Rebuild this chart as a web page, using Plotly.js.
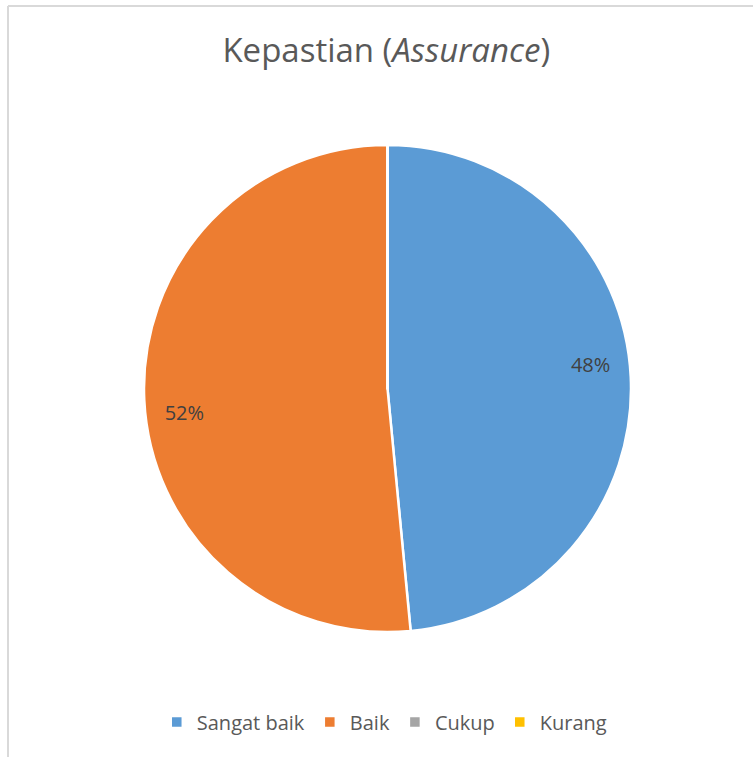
<!DOCTYPE html>
<html>
<head>
<meta charset="utf-8">
<script src="https://cdn.plot.ly/plotly-3.0.1.min.js"></script>
<style>
html,body{margin:0;padding:0;background:#fff;}
#chart{width:753px;height:757px;}
</style>
</head>
<body>
<div id="chart"></div>
<script>
const categories = ["Sangat baik", "Baik", "Cukup", "Kurang"];
const values = [16, 17, 0, 0];
const colors = ["#5B9BD5", "#ED7D31", "#A5A5A5", "#FFC000"];
const titleText = "Kepastian (<i>Assurance</i>)";

const W = 753, H = 757;
const dom = {x: [144/W, 631/W], y: [1 - 632/H, 1 - 145/H]};

const pieTrace = {
  type: "pie",
  labels: categories,
  values: values,
  sort: false,
  direction: "clockwise",
  rotation: 0,
  marker: {colors: colors, line: {color: "#ffffff", width: 2.5}},
  textinfo: "none",
  domain: dom,
  hoverinfo: "label+percent"
};

// transparent ring used only to place the percentage labels near the rim
const labelTrace = {
  type: "pie",
  labels: categories,
  values: values,
  sort: false,
  direction: "clockwise",
  rotation: -4,
  hole: 0.68,
  showlegend: false,
  marker: {colors: ["rgba(0,0,0,0)", "rgba(0,0,0,0)", "rgba(0,0,0,0)", "rgba(0,0,0,0)"], line: {width: 0}},
  texttemplate: "%{percent:.0%}",
  textposition: "inside",
  insidetextorientation: "horizontal",
  textfont: {family: "Open Sans, sans-serif", size: 20, color: "#404040"},
  domain: dom,
  hoverinfo: "skip"
};

const layout = {
  width: W, height: H,
  margin: {l: 0, r: 0, t: 0, b: 0},
  paper_bgcolor: "#ffffff",
  showlegend: true,
  title: {
    text: titleText,
    font: {family: "Liberation Sans Narrow, Open Sans, sans-serif", size: 33, color: "#595959"},
    x: 0.513, xanchor: "center",
    y: 1 - 50/H, yanchor: "middle", yref: "container"
  },
  legend: {
    orientation: "h",
    x: 0.511, xanchor: "center",
    y: 1 - 722/H, yanchor: "middle",
    font: {family: "Open Sans, sans-serif", size: 20, color: "#595959"},
    itemwidth: 30,
    traceorder: "normal"
  },
  shapes: [
    {type: "line", xref: "paper", yref: "paper", x0: 8/W, x1: 8/W, y0: 0, y1: 1 - 6/H, line: {color: "#d9d9d9", width: 2}},
    {type: "line", xref: "paper", yref: "paper", x0: 8/W, x1: 1, y0: 1 - 6/H, y1: 1 - 6/H, line: {color: "#d9d9d9", width: 2}}
  ]
};

Plotly.newPlot("chart", [pieTrace, labelTrace], layout, {displayModeBar: false});
</script>
</body>
</html>
